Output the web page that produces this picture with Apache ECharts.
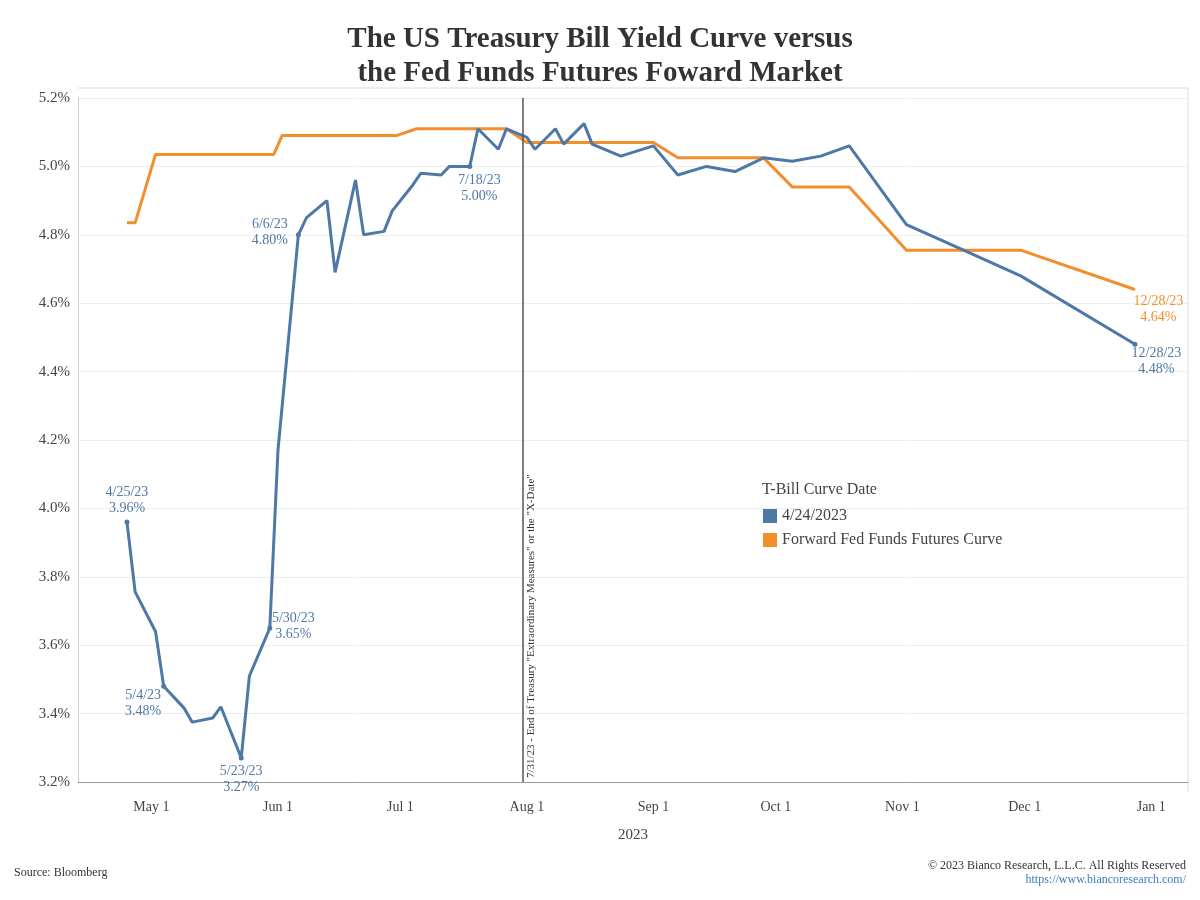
<!DOCTYPE html>
<html><head><meta charset="utf-8">
<script src="https://cdn.jsdelivr.net/npm/echarts@6/dist/echarts.min.js"></script>
<style>html,body{margin:0;background:#fff}#c{width:1200px;height:900px}</style></head>
<body><div id="c"></div>
<script>
const tbillDates=['2023-04-25','2023-04-27','2023-05-02','2023-05-04','2023-05-09','2023-05-11','2023-05-16','2023-05-18','2023-05-23','2023-05-25','2023-05-30','2023-06-01','2023-06-06','2023-06-08','2023-06-13','2023-06-15','2023-06-20','2023-06-22','2023-06-27','2023-06-29','2023-07-04','2023-07-06','2023-07-11','2023-07-13','2023-07-18','2023-07-20','2023-07-25','2023-07-27','2023-08-01','2023-08-03','2023-08-08','2023-08-10','2023-08-15','2023-08-17','2023-08-24','2023-09-01','2023-09-07','2023-09-14','2023-09-21','2023-09-28','2023-10-05','2023-10-12','2023-10-19','2023-11-02','2023-11-16','2023-11-30','2023-12-28'];
const tbillValues=[3.96,3.756,3.64,3.48,3.416,3.375,3.387,3.42,3.27,3.51,3.65,4.17,4.80,4.85,4.90,4.69,4.96,4.80,4.81,4.87,4.945,4.98,4.975,5.0,5.00,5.11,5.05,5.11,5.085,5.05,5.11,5.065,5.125,5.065,5.03,5.06,4.975,5.0,4.985,5.025,5.015,5.03,5.06,4.83,4.755,4.68,4.48];
const ffDates=['2023-04-25','2023-04-27','2023-05-02','2023-05-31','2023-06-02','2023-06-30','2023-07-05','2023-07-27','2023-08-01','2023-09-01','2023-09-07','2023-09-28','2023-10-05','2023-10-19','2023-11-02','2023-11-30','2023-12-28'];
const ffValues=[4.835,4.835,5.035,5.035,5.09,5.09,5.11,5.11,5.07,5.07,5.025,5.025,4.94,4.94,4.755,4.755,4.64];
const tickDates=['2023-05-01','2023-06-01','2023-07-01','2023-08-01','2023-09-01','2023-10-01','2023-11-01','2023-12-01','2024-01-01'];
const tickLabels=['May 1','Jun 1','Jul 1','Aug 1','Sep 1','Oct 1','Nov 1','Dec 1','Jan 1'];
const blueLabels={'2023-04-25':'top','2023-05-04':[-18,4],'2023-05-23':'bottom','2023-05-30':[26,-15],'2023-06-06':[-26,-16],'2023-07-18':[12,8],'2023-12-28':[24,4]};
const xDate='2023-07-31';
const BLUE='#4e79a7',ORANGE='#f28e2b';
const t=s=>Date.parse(s+'T00:00:00Z');
const fmtD=s=>{const [y,m,d]=s.split('-');return (+m)+'/'+(+d)+'/'+y.slice(2);};
const serif='"Liberation Serif","DejaVu Serif",serif';
const tbData=tbillDates.map((d,i)=>{
  const item={value:[t(d),tbillValues[i]]};
  if(blueLabels[d]){
    item.symbol='circle';item.symbolSize=5;
    item.label={show:true,position:blueLabels[d],distance:3,color:BLUE,fontFamily:serif,fontSize:14,lineHeight:16,align:'center',
      formatter:fmtD(d)+'\n'+tbillValues[i].toFixed(2)+'%'};
  }
  return item;
});
const ffData=ffDates.map((d,i)=>{
  const item={value:[t(d),ffValues[i]]};
  if(i===ffDates.length-1){item.symbol='circle';item.symbolSize=1;item.label={show:true,position:[24,4],align:'center',color:ORANGE,fontFamily:serif,fontSize:14,lineHeight:16,
    formatter:fmtD(d)+'\n'+ffValues[i].toFixed(2)+'%'};}
  return item;
});
const chart=echarts.init(document.getElementById('c'));
chart.setOption({
  animation:false,
  textStyle:{fontFamily:serif},
  title:{text:'The US Treasury Bill Yield Curve versus\nthe Fed Funds Futures Foward Market',left:'center',top:18,
    textStyle:{fontFamily:serif,fontWeight:'bold',fontSize:29,lineHeight:34,color:'#333'}},
  grid:{left:78,right:12,top:98,bottom:118},
  legend:{orient:'vertical',left:758,top:503,itemWidth:14,itemHeight:14,itemGap:8,icon:'rect',
    textStyle:{fontFamily:serif,fontSize:16,color:'#444'},data:['4/24/2023','Forward Fed Funds Futures Curve']},
  graphic:[
    {type:'text',left:762,top:482,style:{text:'T-Bill Curve Date',font:'16px '+serif,fill:'#444'}},
    {type:'text',left:14,top:867,style:{text:'Source: Bloomberg',font:'12px '+serif,fill:'#333'}},
    {type:'text',right:14,top:860,style:{text:'© 2023 Bianco Research, L.L.C. All Rights Reserved',font:'12px '+serif,fill:'#333',align:'right'}},
    {type:'text',right:14,top:874,style:{text:'https://www.biancoresearch.com/',font:'12px '+serif,fill:'#3a7cc0',align:'right'}},
    {type:'line',shape:{x1:78,y1:88,x2:1188,y2:88},style:{stroke:'#ddd'}},
    {type:'line',shape:{x1:1188,y1:88,x2:1188,y2:792},style:{stroke:'#ddd'}}
  ],
  xAxis:{type:'value',min:t('2023-04-13'),max:t('2024-01-10'),
    axisLine:{show:true,onZero:false,lineStyle:{color:'#999'}},
    axisTick:{show:false},
    splitLine:{show:false},
    axisLabel:{customValues:tickDates.map(t),color:'#444',fontSize:14,margin:18,fontFamily:serif,
      formatter:v=>{const i=tickDates.map(t).indexOf(v);return i>=0?tickLabels[i]:'';}},
    name:'2023',nameLocation:'middle',nameGap:46,nameTextStyle:{fontSize:15,color:'#444',fontFamily:serif}},
  yAxis:{type:'value',min:3.2,max:5.2,interval:0.2,
    axisLine:{show:true,lineStyle:{color:'#ccc'}},axisTick:{show:false},
    splitLine:{lineStyle:{color:'#eee'}},
    axisLabel:{color:'#444',fontSize:15,fontFamily:serif,margin:8,formatter:v=>v.toFixed(1)+'%'}},
  series:[
    {name:'4/24/2023',type:'line',data:tbData,showSymbol:true,symbol:'none',color:BLUE,lineStyle:{width:3,color:BLUE},
      markLine:{silent:true,symbol:'none',lineStyle:{color:'#555',width:1.5,type:'solid'},
        label:{show:true,position:'insideStartBottom',formatter:'7/31/23 - End of Treasury "Extraordinary Measures" or the "X-Date"',
          color:'#333',fontSize:11,fontFamily:serif,distance:[4,3]},
        data:[{xAxis:t(xDate)}]}},
    {name:'Forward Fed Funds Futures Curve',type:'line',data:ffData,symbol:'none',showSymbol:true,color:ORANGE,lineStyle:{width:3,color:ORANGE},z:1}
  ]
});
</script></body></html>
